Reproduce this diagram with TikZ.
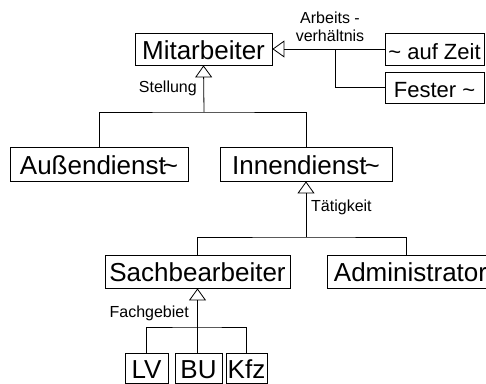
\documentclass[tikz,border=0pt]{standalone}
\usepackage{fontspec}
\setmainfont{Liberation Sans}
\usetikzlibrary{arrows.meta,positioning}
\newcommand{\tl}{{\char"7E}}
\tikzset{
  cls/.style={draw, line width=0.8pt, inner sep=0pt, minimum height=32pt, text height=20pt, text depth=0pt, font=\fontsize{26}{28}\selectfont},
  sub/.style={cls, font=\fontsize{22}{24}\selectfont},
  lab/.style={inner sep=1pt, font=\fontsize{16}{18}\selectfont},
  gen/.style={line width=0.8pt, -{Triangle[open, length=12pt, width=17pt, line width=0.8pt]}},
  con/.style={line width=0.8pt}
}
\begin{document}
\begin{tikzpicture}[x=1pt, y=-1pt]
\useasboundingbox (0,0) rectangle (486,383);
\clip (0,0) rectangle (486,383);
\node[cls, minimum width=137pt] (mit) at (203.5,49) {Mitarbeiter};
\node[sub, minimum width=99pt] (zeit) at (434.5,49) {\tl\ auf Zeit};
\node[sub, minimum width=99pt, minimum height=31pt] (fest) at (434.5,87.5) {Fester \tl};
\node[cls, minimum width=178pt, minimum height=34pt] (aussen) at (99,164) {Außendienst\kern-3pt\tl};
\node[cls, minimum width=172pt, minimum height=34pt] (innen) at (306,164) {Innendienst\kern-2pt\tl};
\node[cls, minimum width=185pt, minimum height=33pt] (sach) at (197.5,271.5) {Sachbearbeiter};
\node[cls, minimum width=167pt, minimum height=33pt] (admin) at (410.5,271.5) {Administrator};
\node[cls, minimum width=43pt, minimum height=30pt, anchor=north] (lv) at (146.5,353) {LV};
\node[cls, minimum width=47pt, minimum height=30pt, anchor=north] (bu) at (198.5,353) {BU};
\node[cls, minimum width=41pt, minimum height=30pt, anchor=north] (kfz) at (246.5,353) {Kfz};
\coordinate (j0) at (335,49);
\coordinate (j1) at (204,112);
\coordinate (j2) at (306,237);
\coordinate (j3) at (197.5,327);
\node[lab, align=center] (arb) at (330,27) {Arbeits -\\verhältnis};
\node[lab, anchor=east] (stell) at (198,88) {Stellung};
\node[lab, anchor=west] (taet) at (310,207) {Tätigkeit};
\node[lab, anchor=east] (fach) at (190,313) {Fachgebiet};
\draw[gen] (zeit.west) -- (mit.east);
\draw[con] (fest.west) -| (j0);
\draw[gen] (j1) -- (mit.south);
\draw[con] (aussen.north) |- (j1) -| (innen.north);
\draw[gen] (j2) -- (innen.south);
\draw[con] (sach.north) |- (j2) -| ([xshift=-4pt]admin.north);
\draw[gen] (j3) -- (sach.south);
\draw[con] (lv.north) |- (j3) -| (kfz.north);
\draw[con] (j3) -- (j3 |- bu.north);
\end{tikzpicture}
\end{document}
